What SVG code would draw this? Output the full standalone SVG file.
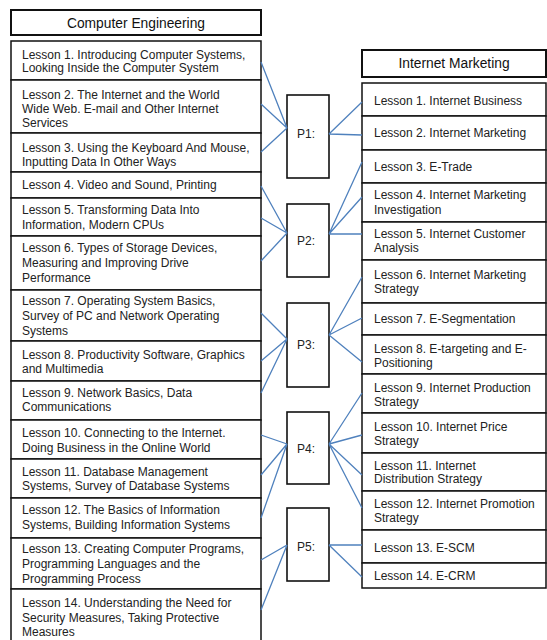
<svg xmlns="http://www.w3.org/2000/svg" width="547" height="640" viewBox="0 0 547 640">
<style>
.bx{fill:#fff;stroke:#111;stroke-width:1.5}
.hd{fill:#fff;stroke:#111;stroke-width:2}
.pb{fill:#fff;stroke:#111;stroke-width:1.6}
.t{font-family:"Liberation Sans",Arial,sans-serif;font-size:12px;fill:#222}
.h{font-family:"Liberation Sans",Arial,sans-serif;font-size:13.8px;fill:#111;text-anchor:middle}
.p{font-family:"Liberation Sans",Arial,sans-serif;font-size:12px;fill:#222;text-anchor:middle}
.c{stroke:#4f81bd;stroke-width:1.3;fill:none}
</style>
<rect width="547" height="640" fill="#fff"/>

<g id="ce-header"><rect class="hd" x="11" y="10" width="250" height="25"/><text class="h" x="136" y="27.5">Computer Engineering</text></g>
<g id="ce-1"><rect class="bx" x="11" y="41" width="250" height="39"/><text class="t" x="22" y="58.5">Lesson 1. Introducing Computer Systems,</text><text class="t" x="22" y="72">Looking Inside the Computer System</text></g>
<g id="ce-2"><rect class="bx" x="11" y="80" width="250" height="53"/><text class="t" x="22" y="99">Lesson 2. The Internet and the World</text><text class="t" x="22" y="112.5">Wide Web. E-mail and Other Internet</text><text class="t" x="22" y="126.5">Services</text></g>
<g id="ce-3"><rect class="bx" x="11" y="133" width="250" height="39"/><text class="t" x="22" y="152">Lesson 3. Using the Keyboard And Mouse,</text><text class="t" x="22" y="166">Inputting Data In Other Ways</text></g>
<g id="ce-4"><rect class="bx" x="11" y="172" width="250" height="26"/><text class="t" x="22" y="189">Lesson 4. Video and Sound, Printing</text></g>
<g id="ce-5"><rect class="bx" x="11" y="198" width="250" height="38"/><text class="t" x="22" y="214">Lesson 5. Transforming Data Into</text><text class="t" x="22" y="229">Information, Modern CPUs</text></g>
<g id="ce-6"><rect class="bx" x="11" y="236" width="250" height="54"/><text class="t" x="22" y="252">Lesson 6. Types of Storage Devices,</text><text class="t" x="22" y="267">Measuring and Improving Drive</text><text class="t" x="22" y="282">Performance</text></g>
<g id="ce-7"><rect class="bx" x="11" y="290" width="250" height="51"/><text class="t" x="22" y="305">Lesson 7. Operating System Basics,</text><text class="t" x="22" y="320">Survey of PC and Network Operating</text><text class="t" x="22" y="335">Systems</text></g>
<g id="ce-8"><rect class="bx" x="11" y="341" width="250" height="40"/><text class="t" x="22" y="359">Lesson 8. Productivity Software, Graphics</text><text class="t" x="22" y="373">and Multimedia</text></g>
<g id="ce-9"><rect class="bx" x="11" y="381" width="250" height="39"/><text class="t" x="22" y="397">Lesson 9. Network Basics, Data</text><text class="t" x="22" y="411">Communications</text></g>
<g id="ce-10"><rect class="bx" x="11" y="420" width="250" height="39"/><text class="t" x="22" y="437">Lesson 10. Connecting to the Internet.</text><text class="t" x="22" y="452">Doing Business in the Online World</text></g>
<g id="ce-11"><rect class="bx" x="11" y="459" width="250" height="39"/><text class="t" x="22" y="476">Lesson 11. Database Management</text><text class="t" x="22" y="490">Systems, Survey of Database Systems</text></g>
<g id="ce-12"><rect class="bx" x="11" y="498" width="250" height="40"/><text class="t" x="22" y="514">Lesson 12. The Basics of Information</text><text class="t" x="22" y="529">Systems, Building Information Systems</text></g>
<g id="ce-13"><rect class="bx" x="11" y="538" width="250" height="51"/><text class="t" x="22" y="553">Lesson 13. Creating Computer Programs,</text><text class="t" x="22" y="568">Programming Languages and the</text><text class="t" x="22" y="583">Programming Process</text></g>
<g id="ce-14"><rect class="bx" x="11" y="589" width="250" height="60"/><text class="t" x="22" y="607">Lesson 14. Understanding the Need for</text><text class="t" x="22" y="622">Security Measures, Taking Protective</text><text class="t" x="22" y="636">Measures</text></g>

<g id="p1"><rect class="pb" x="287" y="95" width="42" height="83"/><text class="p" x="306" y="138">P1:</text></g>
<g id="p2"><rect class="pb" x="287" y="204" width="42" height="73"/><text class="p" x="306" y="245">P2:</text></g>
<g id="p3"><rect class="pb" x="287" y="303" width="42" height="84"/><text class="p" x="306" y="349">P3:</text></g>
<g id="p4"><rect class="pb" x="287" y="412" width="42" height="72"/><text class="p" x="306" y="453">P4:</text></g>
<g id="p5"><rect class="pb" x="287" y="508" width="42" height="73"/><text class="p" x="306" y="551">P5:</text></g>

<g id="im-header"><rect class="hd" x="362" y="50" width="184" height="27"/><text class="h" x="454" y="68">Internet Marketing</text></g>
<g id="im-1"><rect class="bx" x="362" y="83" width="184" height="33"/><text class="t" x="374" y="104.5">Lesson 1. Internet Business</text></g>
<g id="im-2"><rect class="bx" x="362" y="116" width="184" height="34"/><text class="t" x="374" y="137">Lesson 2. Internet Marketing</text></g>
<g id="im-3"><rect class="bx" x="362" y="150" width="184" height="33"/><text class="t" x="374" y="170.5">Lesson 3. E-Trade</text></g>
<g id="im-4"><rect class="bx" x="362" y="183" width="184" height="39"/><text class="t" x="374" y="199">Lesson 4. Internet Marketing</text><text class="t" x="374" y="214">Investigation</text></g>
<g id="im-5"><rect class="bx" x="362" y="222" width="184" height="38"/><text class="t" x="374" y="238">Lesson 5. Internet Customer</text><text class="t" x="374" y="252">Analysis</text></g>
<g id="im-6"><rect class="bx" x="362" y="260" width="184" height="43"/><text class="t" x="374" y="279">Lesson 6. Internet Marketing</text><text class="t" x="374" y="293">Strategy</text></g>
<g id="im-7"><rect class="bx" x="362" y="303" width="184" height="32"/><text class="t" x="374" y="323">Lesson 7. E-Segmentation</text></g>
<g id="im-8"><rect class="bx" x="362" y="335" width="184" height="39"/><text class="t" x="374" y="353">Lesson 8. E-targeting and E-</text><text class="t" x="374" y="367">Positioning</text></g>
<g id="im-9"><rect class="bx" x="362" y="374" width="184" height="39"/><text class="t" x="374" y="392">Lesson 9. Internet Production</text><text class="t" x="374" y="406">Strategy</text></g>
<g id="im-10"><rect class="bx" x="362" y="413" width="184" height="40"/><text class="t" x="374" y="431">Lesson 10. Internet Price</text><text class="t" x="374" y="445">Strategy</text></g>
<g id="im-11"><rect class="bx" x="362" y="453" width="184" height="38"/><text class="t" x="374" y="470">Lesson 11. Internet</text><text class="t" x="374" y="483">Distribution Strategy</text></g>
<g id="im-12"><rect class="bx" x="362" y="491" width="184" height="39"/><text class="t" x="374" y="508">Lesson 12. Internet Promotion</text><text class="t" x="374" y="522">Strategy</text></g>
<g id="im-13"><rect class="bx" x="362" y="530" width="184" height="33"/><text class="t" x="374" y="552">Lesson 13. E-SCM</text></g>
<g id="im-14"><rect class="bx" x="362" y="563" width="184" height="25"/><text class="t" x="374" y="580">Lesson 14. E-CRM</text></g>

<g id="connectors">
<path class="c" d="M261,62 L287,128 M261,104 L287,128 M261,152 L287,128"/>
<path class="c" d="M329,134 L362,102 M329,134 L362,135"/>
<path class="c" d="M261,186 L287,233 M261,218 L287,233 M261,261 L287,233"/>
<path class="c" d="M329,234 L362,162 M329,234 L362,197 M329,234 L362,234"/>
<path class="c" d="M261,313 L287,339 M261,361 L287,339 M261,393 L287,339"/>
<path class="c" d="M329,335 L362,277 M329,335 L362,318 M329,335 L362,362"/>
<path class="c" d="M261,435 L287,444 M261,475 L287,444 M261,518 L287,444"/>
<path class="c" d="M329,444 L362,393 M329,444 L362,435 M329,444 L362,475 M329,444 L362,508"/>
<path class="c" d="M261,560 L287,545 M261,610 L287,545"/>
<path class="c" d="M329,545 L362,545 M329,545 L362,577"/>
</g>
</svg>
